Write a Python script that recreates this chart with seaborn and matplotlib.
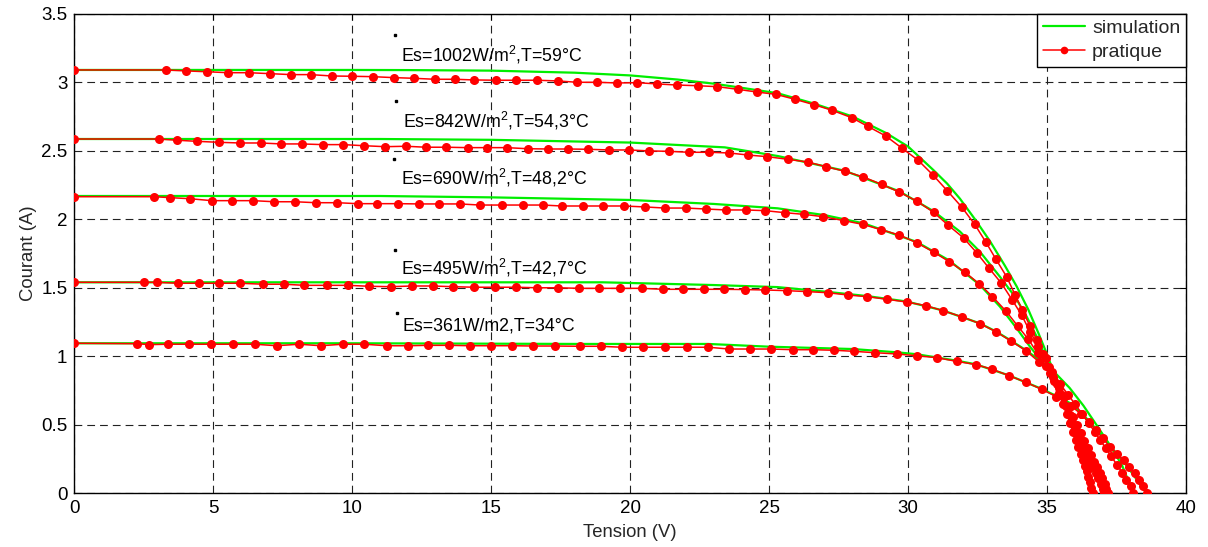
import numpy as np
import pandas as pd
import matplotlib
matplotlib.use("Agg")
import matplotlib.pyplot as plt
from matplotlib.lines import Line2D
import seaborn as sns

# ---------------- data ----------------
curve_labels = ["Es=1002W/m$^{2}$,T=59°C", "Es=842W/m$^{2}$,T=54,3°C",
                "Es=690W/m$^{2}$,T=48,2°C", "Es=495W/m$^{2}$,T=42,7°C",
                "Es=361W/m2,T=34°C"]
label_v = [11.74, 11.81, 11.74, 11.74, 11.82]
label_i = [3.20, 2.72, 2.30, 1.645, 1.221]
anchor_v = [11.53, 11.57, 11.50, 11.53, 11.60]
anchor_i = [3.346, 2.863, 2.44, 1.776, 1.315]

# simulation curves
s1v = [0, 5, 10, 12, 15, 18, 20, 21.7, 23, 24, 25.3, 26.6, 28, 29.2, 30.0, 30.9, 31.4, 31.86, 32.4, 32.94,
       33.48, 33.9, 34.32, 34.68, 34.98, 35.28, 35.57, 35.9, 36.28, 36.63]
s1i = [3.09, 3.09, 3.09, 3.089, 3.085, 3.07, 3.05, 3.02, 2.99, 2.96, 2.92, 2.845, 2.75, 2.63, 2.53, 2.36, 2.26,
       2.15, 2.0, 1.84, 1.66, 1.51, 1.34, 1.17, 1.02, 0.86, 0.69, 0.47, 0.22, 0.0]
s2v = [0, 5, 11, 15, 20, 23.4, 25.3, 27.7, 29.67, 30.9, 31.86, 32.58, 33.3, 33.84, 34.26, 34.68, 34.98, 35.33,
       35.65, 36.0, 36.4, 36.75, 37.08]
s2i = [2.586, 2.586, 2.586, 2.58, 2.56, 2.525, 2.462, 2.355, 2.205, 2.06, 1.91, 1.763, 1.58, 1.435, 1.289, 1.119,
       0.973, 0.827, 0.66, 0.47, 0.27, 0.12, 0.0]
s3v = [0, 11, 15, 20, 23, 25.3, 27, 28.4, 30.3, 31.47, 32.58, 33.3, 33.9, 34.38, 34.86, 35.33, 35.75, 36.15,
       36.55, 36.9, 37.14]
s3i = [2.17, 2.17, 2.16, 2.141, 2.112, 2.08, 2.03, 1.97, 1.835, 1.70, 1.52, 1.362, 1.204, 1.07, 0.949, 0.815,
       0.64, 0.45, 0.25, 0.10, 0.0]
s4v = [0, 10, 19, 23, 25.3, 27.1, 28.5, 29.94, 31.24, 32.58, 33.15, 33.69, 34.23, 34.77, 35.3, 35.8, 36.3, 36.8,
       37.26, 37.7, 38.1]
s4i = [1.54, 1.54, 1.54, 1.52, 1.505, 1.47, 1.44, 1.40, 1.335, 1.24, 1.182, 1.115, 1.045, 0.965, 0.875, 0.77,
       0.64, 0.49, 0.35, 0.2, 0.0]
s5v = [0, 10, 18.2, 22.8, 25, 28, 29.6, 30.3, 31.74, 32.42, 33.63, 34.8, 35.33, 35.85, 36.5, 37.25, 37.9, 38.57]
s5i = [1.095, 1.095, 1.09, 1.09, 1.07, 1.053, 1.029, 1.015, 0.968, 0.942, 0.86, 0.762, 0.71, 0.655, 0.53, 0.35,
       0.19, 0.0]

# measured (pratique) curves
p1v = [0, 3.29, 4.02, 4.76, 5.53, 6.27, 7.04, 7.79, 8.50, 9.26, 9.98, 10.73, 11.5, 12.23, 12.97, 13.69, 14.39,
       15.17, 15.88, 16.63, 17.39, 18.09, 18.81, 19.53, 20.25, 20.97, 21.67, 22.42, 23.13, 23.86, 24.55, 25.24,
       25.92, 26.6, 27.27, 27.96, 28.54, 29.19, 29.77, 30.36, 30.89, 31.4, 31.92, 32.39, 32.78, 33.15, 33.54,
       33.84, 34.1, 34.38, 34.62, 34.83, 35.05, 35.25, 35.42, 35.57, 35.7, 35.82, 35.93, 36.03, 36.12, 36.2,
       36.28, 36.35, 36.42, 36.48, 36.54, 36.59, 36.63]
p1i = [3.09, 3.09, 3.083, 3.077, 3.07, 3.07, 3.063, 3.056, 3.056, 3.046, 3.044, 3.041, 3.034, 3.029, 3.022,
       3.022, 3.017, 3.015, 3.015, 3.015, 3.01, 3.0, 3.0, 2.995, 2.997, 2.988, 2.98, 2.975, 2.968, 2.949, 2.929,
       2.912, 2.876, 2.837, 2.795, 2.742, 2.679, 2.608, 2.52, 2.43, 2.323, 2.209, 2.09, 1.963, 1.837, 1.71, 1.58,
       1.45, 1.338, 1.22, 1.12, 1.02, 0.92, 0.82, 0.73, 0.65, 0.58, 0.51, 0.45, 0.39, 0.34, 0.29, 0.24, 0.20,
       0.16, 0.12, 0.08, 0.04, 0.0]
p2v = [0, 3.03, 3.69, 4.41, 5.19, 5.95, 6.71, 7.44, 8.18, 8.93, 9.68, 10.42, 11.18, 11.93, 12.65, 13.37, 14.15,
       14.86, 15.55, 16.31, 17.05, 17.77, 18.49, 19.24, 19.96, 20.68, 21.4, 22.12, 22.84, 23.56, 24.24, 24.93,
       25.66, 26.38, 27.04, 27.72, 28.38, 29.04, 29.67, 30.32, 30.91, 31.43, 31.99, 32.46, 32.91, 33.35, 33.74,
       34.08, 34.38, 34.68, 34.95, 35.16, 35.35, 35.52, 35.68, 35.82, 35.95, 36.08, 36.2, 36.32, 36.43, 36.54,
       36.64, 36.74, 36.83, 36.92, 37.0, 37.05]
p2i = [2.586, 2.586, 2.577, 2.569, 2.562, 2.557, 2.557, 2.55, 2.55, 2.545, 2.545, 2.537, 2.53, 2.533, 2.526,
       2.526, 2.523, 2.523, 2.523, 2.515, 2.513, 2.513, 2.511, 2.506, 2.506, 2.499, 2.496, 2.489, 2.489, 2.484,
       2.469, 2.457, 2.438, 2.418, 2.384, 2.35, 2.309, 2.255, 2.199, 2.131, 2.051, 1.958, 1.864, 1.756, 1.642,
       1.533, 1.411, 1.30, 1.18, 1.075, 0.985, 0.888, 0.80, 0.72, 0.64, 0.57, 0.50, 0.44, 0.38, 0.33, 0.28,
       0.23, 0.19, 0.15, 0.11, 0.07, 0.03, 0.0]
p3v = [0, 2.87, 3.44, 4.17, 4.94, 5.68, 6.44, 7.19, 7.94, 8.69, 9.46, 10.19, 10.9, 11.65, 12.41, 13.13, 13.87,
       14.59, 15.37, 16.13, 16.85, 17.53, 18.31, 19.03, 19.77, 20.53, 21.25, 22.0, 22.72, 23.44, 24.16, 24.85,
       25.57, 26.25, 26.94, 27.69, 28.36, 29.02, 29.68, 30.3, 30.91, 31.47, 32.04, 32.56, 33.03, 33.51, 33.93,
       34.32, 34.65, 34.95, 35.2, 35.42, 35.6, 35.77, 35.92, 36.06, 36.2, 36.33, 36.45, 36.57, 36.68, 36.79,
       36.89, 36.98, 37.06, 37.13, 37.18]
p3i = [2.165, 2.165, 2.158, 2.15, 2.136, 2.136, 2.136, 2.128, 2.128, 2.121, 2.121, 2.114, 2.114, 2.114, 2.112,
       2.112, 2.112, 2.104, 2.104, 2.104, 2.104, 2.097, 2.097, 2.097, 2.097, 2.09, 2.082, 2.082, 2.075, 2.068,
       2.068, 2.063, 2.048, 2.036, 2.019, 1.99, 1.963, 1.924, 1.885, 1.829, 1.761, 1.691, 1.613, 1.528, 1.435,
       1.331, 1.223, 1.124, 1.022, 0.931, 0.85, 0.77, 0.70, 0.63, 0.56, 0.50, 0.44, 0.38, 0.33, 0.28, 0.23,
       0.19, 0.15, 0.11, 0.07, 0.03, 0.0]
p4v = [0, 2.51, 2.99, 3.72, 4.47, 5.22, 5.96, 6.8, 7.55, 8.27, 9.1, 9.83, 10.61, 11.38, 12.14, 12.89, 13.61,
       14.39, 15.13, 15.89, 16.65, 17.39, 18.17, 18.88, 19.63, 20.41, 21.17, 21.9, 22.65, 23.37, 24.13, 24.85,
       25.63, 26.37, 27.1, 27.84, 28.53, 29.24, 29.94, 30.63, 31.24, 31.92, 32.58, 33.15, 33.69, 34.23, 34.7,
       35.1, 35.45, 35.75, 36.0, 36.25, 36.5, 36.7, 36.9, 37.1, 37.3, 37.5, 37.7, 37.85, 38.0, 38.1]
p4i = [1.54, 1.54, 1.54, 1.533, 1.533, 1.533, 1.533, 1.526, 1.526, 1.518, 1.518, 1.518, 1.511, 1.508, 1.513,
       1.513, 1.508, 1.504, 1.504, 1.504, 1.5, 1.5, 1.496, 1.496, 1.496, 1.496, 1.489, 1.489, 1.489, 1.489,
       1.487, 1.484, 1.479, 1.472, 1.464, 1.447, 1.435, 1.416, 1.396, 1.37, 1.333, 1.289, 1.238, 1.18, 1.112,
       1.041, 0.96, 0.88, 0.80, 0.72, 0.65, 0.58, 0.51, 0.45, 0.39, 0.33, 0.27, 0.21, 0.15, 0.10, 0.05, 0.0]
p5v = [0, 2.27, 2.69, 3.38, 4.13, 4.91, 5.7, 6.5, 7.28, 8.08, 8.87, 9.65, 10.43, 11.24, 11.99, 12.73, 13.49,
       14.25, 15.0, 15.75, 16.5, 17.3, 18.19, 18.94, 19.69, 20.47, 21.25, 22.03, 22.81, 23.55, 24.31, 25.06,
       25.86, 26.58, 27.34, 28.06, 28.81, 29.58, 30.3, 31.02, 31.74, 32.42, 33.02, 33.63, 34.23, 34.8, 35.33,
       35.85, 36.2, 36.5, 36.75, 37.0, 37.25, 37.5, 37.75, 37.95, 38.15, 38.3, 38.45, 38.57]
p5i = [1.095, 1.092, 1.085, 1.088, 1.088, 1.088, 1.088, 1.088, 1.077, 1.088, 1.077, 1.088, 1.088, 1.077,
       1.077, 1.08, 1.08, 1.077, 1.077, 1.077, 1.075, 1.075, 1.073, 1.073, 1.066, 1.066, 1.066, 1.066, 1.066,
       1.053, 1.053, 1.053, 1.048, 1.048, 1.044, 1.036, 1.026, 1.017, 1.004, 0.99, 0.963, 0.94, 0.905, 0.858,
       0.81, 0.759, 0.705, 0.64, 0.58, 0.52, 0.46, 0.40, 0.34, 0.29, 0.24, 0.19, 0.145, 0.10, 0.055, 0.0]

x_ticks = [0, 5, 10, 15, 20, 25, 30, 35, 40]
y_ticks = [0, 0.5, 1, 1.5, 2, 2.5, 3, 3.5]
y_ticklabels = ["0", "0.5", "1", "1.5", "2", "2.5", "3", "3.5"]

# ---------------- tables ----------------
sim = pd.concat([pd.DataFrame({"V": v, "I": i, "curve": k})
                 for k, (v, i) in enumerate([(s1v, s1i), (s2v, s2i), (s3v, s3i), (s4v, s4i), (s5v, s5i)])])
prac = pd.concat([pd.DataFrame({"V": v, "I": i, "curve": k})
                  for k, (v, i) in enumerate([(p1v, p1i), (p2v, p2i), (p3v, p3i), (p4v, p4i), (p5v, p5i)])])

# ---------------- style ----------------
sns.set_style("white")
plt.rcParams["font.family"] = ["Liberation Sans", "DejaVu Sans"]
plt.rcParams["mathtext.fontset"] = "custom"
plt.rcParams["mathtext.rm"] = "Liberation Sans"
plt.rcParams["mathtext.default"] = "regular"

fig = plt.figure(figsize=(12.08, 5.47), dpi=100)
ax = fig.add_axes([0.0615, 0.0982, 0.9205, 0.8766])

GREEN = "#00ee00"
RED = "#ff0000"

sns.lineplot(data=sim, x="V", y="I", units="curve", estimator=None, sort=False,
             color=GREEN, linewidth=1.6, ax=ax, legend=False, zorder=3)
sns.lineplot(data=prac, x="V", y="I", units="curve", estimator=None, sort=False,
             color=RED, linewidth=1.1, marker="o", markersize=6.5, markeredgewidth=0,
             ax=ax, legend=False, zorder=4)

ax.plot(anchor_v, anchor_i, linestyle="none", marker="s", markersize=1.5, color="black")
for txt, xv, yv in zip(curve_labels, label_v, label_i):
    ax.text(xv, yv, txt, fontsize=12.8, ha="left", va="center", color="black")

ax.set_xlim(0, 40)
ax.set_ylim(0, 3.5)
ax.set_xticks(x_ticks)
ax.set_yticks(y_ticks)
ax.set_xticklabels([str(t) for t in x_ticks])
ax.set_yticklabels(y_ticklabels)
ax.tick_params(direction="in", length=4, width=0.8, labelsize=13.5, colors="black",
               top=True, right=True, pad=5)
ax.grid(True, color="#222222", linestyle=(0, (7, 4.5)), linewidth=0.8)
ax.set_axisbelow(True)
for sp in ax.spines.values():
    sp.set_color("black")
    sp.set_linewidth(1.0)

ax.set_xlabel("Tension (V)", fontsize=13.3, labelpad=5)
ax.set_ylabel("Courant (A)", fontsize=13.3, labelpad=3)

handles = [Line2D([], [], color=GREEN, linewidth=1.6),
           Line2D([], [], color=RED, linewidth=1.1, marker="o", markersize=5.5, markeredgewidth=0)]
leg = ax.legend(handles, ["simulation", "pratique"], loc="upper right", fontsize=14,
                frameon=True, fancybox=False, framealpha=1, edgecolor="black",
                borderaxespad=0, handlelength=2.2, handletextpad=0.35, borderpad=0.3,
                labelspacing=0.3)
leg.get_frame().set_linewidth(1.0)

fig.savefig("out.png", dpi=100)
